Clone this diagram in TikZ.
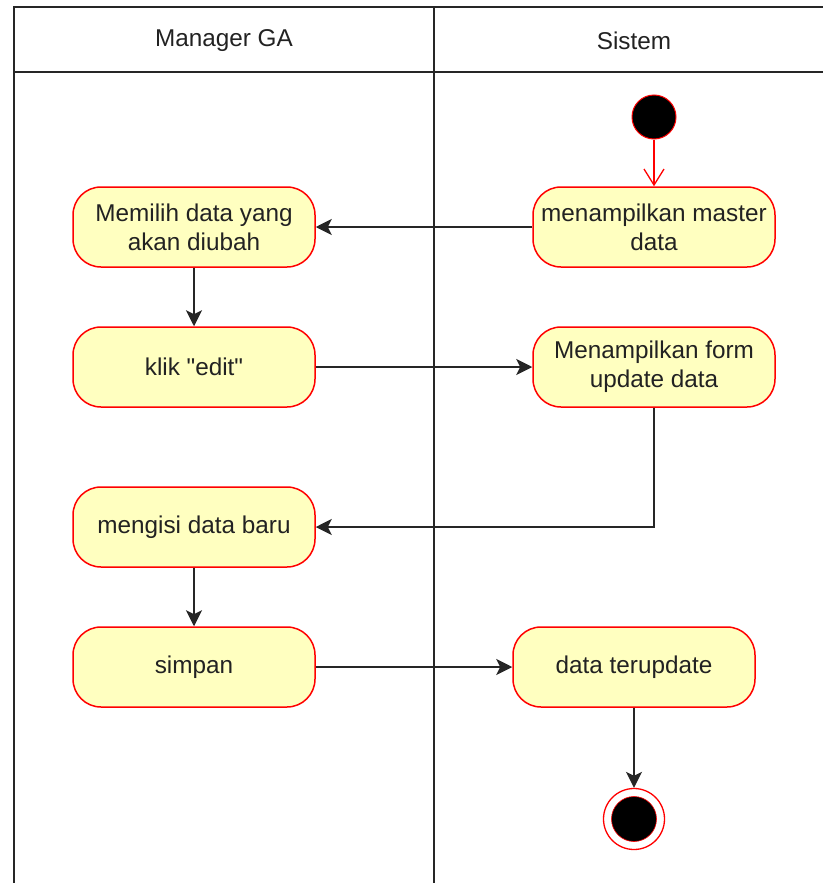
\documentclass[tikz,border=0pt]{standalone}
\usepackage{fontspec}
\setmainfont{Liberation Sans}
\newfontfamily\plainfont{Liberation Sans}
\usetikzlibrary{arrows.meta}
\definecolor{nodefill}{HTML}{FFFFC0}
\definecolor{txt}{HTML}{222222}
\begin{document}
\begin{tikzpicture}[x=1pt,y=-1pt,
  act/.style={draw=red, line width=1.5pt, fill=nodefill, rounded corners=28pt,
    minimum width=242pt, minimum height=80pt, align=center,
    font=\fontsize{24.3}{29}\selectfont, text=txt, inner sep=0pt},
  hdr/.style={font=\fontsize{24.3}{29}\selectfont, text=txt},
  flow/.style={line width=1.6pt, draw=black!85, -{Stealth[length=16pt,width=16pt,inset=4pt]}},
  lane/.style={line width=1.5pt, draw=black!85}]
\useasboundingbox (0,0) rectangle (822,883);
% swimlanes
\draw[lane] (14,884) -- (14,7) -- (823,7);
\draw[lane] (14,72) -- (823,72);
\draw[lane] (434,7) -- (434,884);
\node[hdr] (h1) at (224,41) {Manager GA};
\node[hdr] (h2) at (634,41) {Sistem};
% nodes
\node[circle, fill=black, draw=red, line width=1pt, minimum size=44pt, inner sep=0pt] (start) at (654,117) {};
\node[act] (n1) at (194,227) {Memilih data yang\\akan diubah};
\node[act] (n2) at (654,227) {menampilkan master\\data};
\node[act] (n3) at (194,367) {{\plainfont klik "edit"}};
\node[act] (n4) at (654,367) {Menampilkan form\\update data};
\node[act] (n5) at (194,527) {mengisi data baru};
\node[act] (n6) at (194,667) {simpan};
\node[act] (n7) at (634,667) {data terupdate};
\node[circle, fill=white, draw=red, line width=1.3pt, minimum size=61pt, inner sep=0pt] (stop) at (634,819) {};
\node[circle, fill=black, draw=red, line width=0.6pt, minimum size=45pt, inner sep=0pt] (stopin) at (stop.center) {};
% connectors
\draw[red, line width=1.3pt, -{Straight Barb[length=16pt,width=20pt]}] (start.south) -- (n2.north);
\draw[flow] (n2.west) -- (n1.east);
\draw[flow] (n1.south) -- (n3.north);
\draw[flow] (n3.east) -- (n4.west);
\draw[flow] (n4.south) |- (n5.east);
\draw[flow] (n5.south) -- (n6.north);
\draw[flow] (n6.east) -- (n7.west);
\draw[flow] (n7.south) -- (stop.north);
\end{tikzpicture}
\end{document}
